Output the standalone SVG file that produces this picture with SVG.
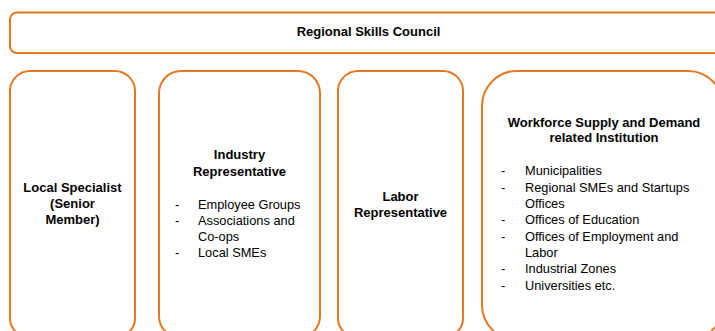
<svg xmlns="http://www.w3.org/2000/svg" width="715" height="331" viewBox="0 0 715 331">
  <style>
    .box { fill: #ffffff; stroke: #E87722; stroke-width: 2; }
    .hd { font-family: "Liberation Sans", Arial, sans-serif; font-weight: bold; font-size: 13px; fill: #000; text-anchor: middle; }
    .tx { font-family: "Liberation Sans", Arial, sans-serif; font-size: 12.8px; fill: #000; }
  </style>
  <rect width="715" height="331" fill="#ffffff"/>

  <!-- council banner -->
  <g id="council">
    <rect class="box" x="10" y="12.5" width="720" height="40.5" rx="7" ry="7"/>
    <text class="hd" x="368.5" y="36">Regional Skills Council</text>
  </g>

  <!-- member columns -->
  <g id="local-specialist">
    <rect class="box" x="10" y="71" width="125" height="267" rx="20" ry="20"/>
    <text class="hd" x="72.5" y="192">Local Specialist</text>
    <text class="hd" x="72.5" y="208">(Senior</text>
    <text class="hd" x="72.5" y="224">Member)</text>
  </g>

  <g id="industry-representative">
    <rect class="box" x="159" y="71" width="161" height="267" rx="22" ry="22"/>
    <text class="hd" x="239.5" y="159">Industry</text>
    <text class="hd" x="239.5" y="176">Representative</text>
    <g class="tx">
      <text x="175" y="209">-</text><text x="198" y="209">Employee Groups</text>
      <text x="175" y="225">-</text><text x="198" y="225">Associations and</text>
      <text x="198" y="241">Co-ops</text>
      <text x="175" y="257">-</text><text x="198" y="257">Local SMEs</text>
    </g>
  </g>

  <g id="labor-representative">
    <rect class="box" x="338" y="71" width="125" height="267" rx="20" ry="20"/>
    <text class="hd" x="400.5" y="201">Labor</text>
    <text class="hd" x="400.5" y="217">Representative</text>
  </g>

  <g id="workforce-institution">
    <rect class="box" x="482" y="71" width="241" height="269" rx="35" ry="35"/>
    <text class="hd" x="604" y="127">Workforce Supply and Demand</text>
    <text class="hd" x="604" y="142">related Institution</text>
    <g class="tx">
      <text x="501" y="175">-</text><text x="525" y="175">Municipalities</text>
      <text x="501" y="192">-</text><text x="525" y="192">Regional SMEs and Startups</text>
      <text x="525" y="208">Offices</text>
      <text x="501" y="224">-</text><text x="525" y="224">Offices of Education</text>
      <text x="501" y="241">-</text><text x="525" y="241">Offices of Employment and</text>
      <text x="525" y="257">Labor</text>
      <text x="501" y="273">-</text><text x="525" y="273">Industrial Zones</text>
      <text x="501" y="290">-</text><text x="525" y="290">Universities etc.</text>
    </g>
  </g>

  <!-- no connectors between the boxes -->
  <g id="connectors"/>
</svg>
